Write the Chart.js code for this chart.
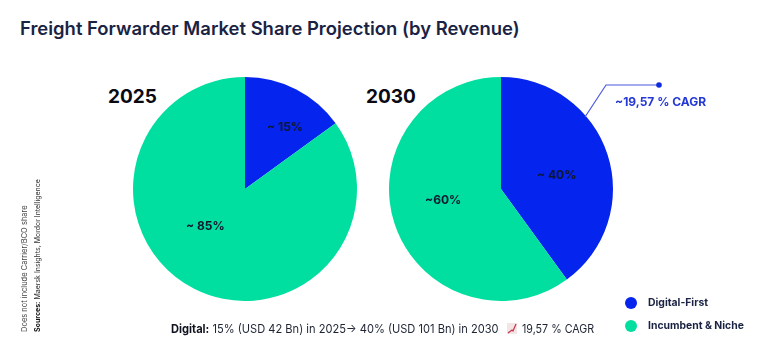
<!DOCTYPE html>
<html><head><meta charset="utf-8">
<script src="https://cdn.jsdelivr.net/npm/chart.js@4"></script>
<style>
html,body{margin:0;padding:0;background:#fff;width:768px;height:364px;overflow:hidden;font-family:Inter,sans-serif}
.t{position:absolute;white-space:nowrap;line-height:1}
canvas{position:absolute}
</style></head><body>
<div class="t" style="left:20px;top:19px;font-size:18.45px;font-weight:600;color:#1a2344">Freight Forwarder Market Share Projection (by Revenue)</div>
<div class="t" style="left:108px;top:87px;font-size:19px;font-weight:700;color:#0a0a14">2025</div>
<div class="t" style="left:366px;top:87px;font-size:19px;font-weight:700;color:#0a0a14">2030</div>
<canvas id="c1" width="224" height="224" style="left:133px;top:77px"></canvas>
<canvas id="c2" width="224" height="224" style="left:389px;top:77px"></canvas>
<div class="t" style="left:267px;top:120.5px;font-size:12px;font-weight:700;color:#10182f">~ 15%</div>
<div class="t" style="left:186px;top:219.5px;font-size:12px;font-weight:700;color:#10182f">~ 85%</div>
<div class="t" style="left:537px;top:168.5px;font-size:12px;font-weight:700;color:#10182f">~ 40%</div>
<div class="t" style="left:425px;top:193.5px;font-size:12px;font-weight:700;color:#10182f">~60%</div>
<svg style="position:absolute;left:0;top:0" width="768" height="364">
<polyline points="585,117 606,85 659,85" fill="none" stroke="#4a5be0" stroke-width="1.2"/>
<circle cx="659" cy="85" r="2.8" fill="#0f2be0"/>
<circle cx="631" cy="303" r="6" fill="#0524EE"/>
<circle cx="631" cy="326" r="6" fill="#00DF9F"/>
<rect x="507" y="323" width="10" height="11" fill="#f3e4e6"/>
<polyline points="508,333 512,330 513,331 516,324" fill="none" stroke="#c8324a" stroke-width="1.2"/>
</svg>
<div class="t" style="left:615px;top:96px;font-size:12px;font-weight:700;color:#2438d6">~19,57 % CAGR</div>
<div class="t" style="left:648px;top:298px;font-size:10.4px;font-weight:700;color:#1a2344">Digital-First</div>
<div class="t" style="left:648px;top:321px;font-size:10.4px;font-weight:700;color:#1a2344">Incumbent &amp; Niche</div>
<div class="t" style="left:171px;top:323px;font-size:12px;color:#1d2333;transform-origin:0 0;transform:scaleX(.925)"><b style="font-weight:700;color:#10131f">Digital:</b> 15% (USD 42 Bn) in 2025→ 40% (USD 101 Bn) in 2030</div>
<div class="t" style="left:522px;top:323px;font-size:12px;color:#1d2333;transform-origin:0 0;transform:scaleX(.89)">19,57 % CAGR</div>
<div class="t" style="left:18px;top:332px;font-size:7.5px;line-height:13px;color:#444;transform-origin:0 0;transform:rotate(-90deg)">Does not include Carrier/BCO share<br><span style="font-size:7px;color:#333"><b style="color:#111">Sources:</b> Maersk Insights, Mordor Intelligence</span></div>
<script>
const categories = ["Digital-First", "Incumbent & Niche"];
const share2025 = [15, 85];
const share2030 = [40, 60];
const colors = ["#0524EE", "#00DF9F"];
function pie(id, values) {
  new Chart(document.getElementById(id), {
    type: "pie",
    data: { labels: categories, datasets: [{ data: values, backgroundColor: colors, borderWidth: 0, hoverOffset: 0 }] },
    options: { responsive: false, animation: false, layout: { padding: 0 },
      plugins: { legend: { display: false }, tooltip: { enabled: false }, title: { display: false } } }
  });
}
pie("c1", share2025);
pie("c2", share2030);
</script>
</body></html>
